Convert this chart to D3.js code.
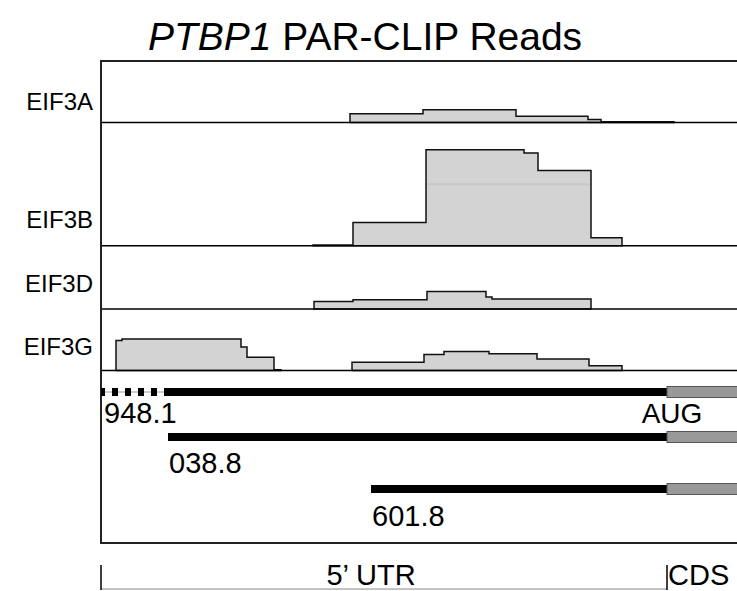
<!DOCTYPE html>
<html>
<head>
<meta charset="utf-8">
<script src="https://cdn.jsdelivr.net/npm/d3@7"></script>
<style>
  body { margin: 0; background: #fff; }
  text { font-family: "Liberation Sans", Arial, sans-serif; fill: #000; }
</style>
</head>
<body>
<svg id="chart"></svg>
<script>
// positions are nt relative to the AUG start codon, values are read counts
const tracks = ['EIF3A', 'EIF3B', 'EIF3D', 'EIF3G'];
const trackMax = [77, 154, 79, 77];   // visible read range of each panel

const eif3a = [[{x: -317, v: 11}, {x: -244, v: 16}, {x: -151, v: 8}, {x: -79, v: 4}, {x: -66, v: 1}, {x: 7, v: 1}]];
const eif3b = [[{x: -354, v: 1}, {x: -314, v: 29}, {x: -241, v: 120}, {x: -143, v: 116}, {x: -129, v: 94}, {x: -76, v: 10}, {x: -45, v: 10}]];
const eif3d = [[{x: -353, v: 9.5}, {x: -314, v: 11.6}, {x: -240, v: 22}, {x: -181, v: 15}, {x: -175, v: 12.5}, {x: -76, v: 12.5}]];
const eif3g = [
  [{x: -551, v: 37.5}, {x: -545, v: 39.6}, {x: -426, v: 29.6}, {x: -420, v: 16.6}, {x: -393, v: 1}, {x: -386, v: 1}],
  [{x: -315, v: 10.4}, {x: -243, v: 20}, {x: -223, v: 23.8}, {x: -178, v: 21}, {x: -130, v: 14.6}, {x: -78, v: 6}, {x: -45, v: 5}]
];
const profiles = [eif3a, eif3b, eif3d, eif3g];
// faint overlap band inside EIF3B
const bandB = {x0: -241, x1: -76, v: 77};

// transcript isoforms: name, solid start, dashed start (or null)
const isoforms = [
  {name: '948.1', start: -502, dashFrom: -566},
  {name: '038.8', start: -499, dashFrom: null},
  {name: '601.8', start: -296, dashFrom: null}
];
const cdsEnd = 80;

const W = 737, H = 591;
const mLeft = 101, mTop = 61, mBottom = 543;
const x = d3.scaleLinear().domain([-566, 70]).range([mLeft, W]);
const pxPerRead = 0.8;

const svg = d3.select('#chart').attr('width', W).attr('height', H);

// title
const title = svg.append('text').attr('x', 365).attr('y', 50).attr('text-anchor', 'middle').attr('font-size', 39);
title.append('tspan').attr('font-style', 'italic').text('PTBP1');
title.append('tspan').text(' PAR-CLIP Reads');

// panels
const labelY = [110, 228, 292, 355];
let y0 = mTop;
tracks.forEach((name, i) => {
  const h = trackMax[i] * pxPerRead;
  const base = y0 + h;
  const y = d3.scaleLinear().domain([0, trackMax[i]]).range([base, y0]);
  const area = d3.area().curve(d3.curveStepAfter).x(d => x(d.x)).y0(base).y1(d => y(d.v));

  profiles[i].forEach(seg => {
    svg.append('path').datum(seg).attr('d', area)
      .attr('fill', '#d3d3d3').attr('stroke', '#111').attr('stroke-width', 1.5);
  });
  if (name === 'EIF3B') {
    svg.append('line').attr('x1', x(bandB.x0) + 1).attr('x2', x(bandB.x1) - 1)
      .attr('y1', y(bandB.v)).attr('y2', y(bandB.v))
      .attr('stroke', '#c6c6c6').attr('stroke-width', 2);
  }
  svg.append('line').attr('x1', mLeft).attr('x2', W).attr('y1', base).attr('y2', base)
    .attr('stroke', '#000').attr('stroke-width', 1.5);
  svg.append('text').attr('x', 93).attr('y', labelY[i]).attr('text-anchor', 'end')
    .attr('font-size', 24).text(name);
  y0 = base;
});

// frame
svg.append('path').attr('d', `M${W},${mTop}H${mLeft}V${mBottom}H${W}`)
  .attr('fill', 'none').attr('stroke', '#222').attr('stroke-width', 2);

// transcripts
const txY = [392, 437, 489];
const txLabelY = [423, 473, 526];
isoforms.forEach((t, i) => {
  const yy = txY[i];
  if (t.dashFrom !== null) {
    svg.append('line').attr('x1', x(t.dashFrom)).attr('x2', x(t.start)).attr('y1', yy).attr('y2', yy)
      .attr('stroke', '#999').attr('stroke-width', 1);
    svg.append('line').attr('x1', x(t.dashFrom)).attr('x2', x(t.start)).attr('y1', yy).attr('y2', yy)
      .attr('stroke', '#000').attr('stroke-width', 8).attr('stroke-dasharray', '6,7').attr('stroke-dashoffset', 2);
  }
  svg.append('line').attr('x1', x(t.start)).attr('x2', x(0)).attr('y1', yy).attr('y2', yy)
    .attr('stroke', '#000').attr('stroke-width', 8);
  svg.append('rect').attr('x', x(0)).attr('y', yy - 5.5).attr('width', x(cdsEnd) - x(0)).attr('height', 11)
    .attr('fill', '#999').attr('stroke', '#555').attr('stroke-width', 1);
  const lx = t.dashFrom !== null ? x(t.dashFrom) + 3 : x(t.start) + 1;
  svg.append('text').attr('x', lx).attr('y', txLabelY[i]).attr('font-size', 29).text(t.name);
});
svg.append('text').attr('x', x(0) + 5).attr('y', 423).attr('text-anchor', 'middle')
  .attr('font-size', 28).text('AUG');

// region bar
svg.append('line').attr('x1', mLeft).attr('x2', x(0)).attr('y1', 589).attr('y2', 589)
  .attr('stroke', '#888').attr('stroke-width', 1);
[mLeft, x(0)].forEach(px => {
  svg.append('line').attr('x1', px).attr('x2', px).attr('y1', 565).attr('y2', 590)
    .attr('stroke', '#000').attr('stroke-width', 1.5);
});
svg.append('text').attr('x', 371).attr('y', 585).attr('text-anchor', 'middle')
  .attr('font-size', 29).text('5\u2019 UTR');
svg.append('text').attr('x', x(0) + 1).attr('y', 585).attr('font-size', 29).text('CDS');
</script>
</body>
</html>
